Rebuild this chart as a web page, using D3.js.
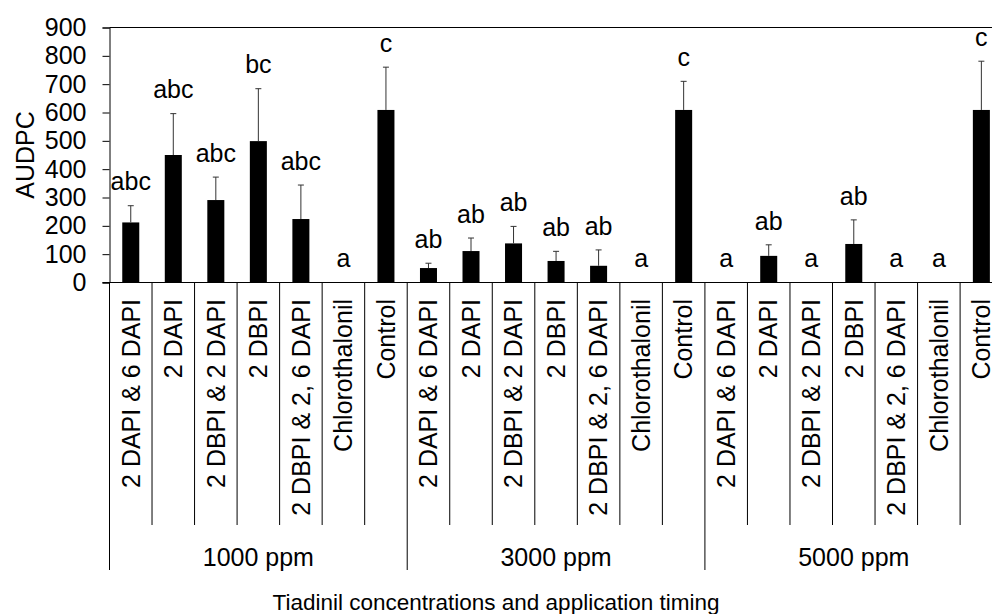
<!DOCTYPE html>
<html>
<head>
<meta charset="utf-8">
<script src="https://cdn.jsdelivr.net/npm/d3@7"></script>
<style>
  body { margin: 0; background: #fff; }
  svg { display: block; font-family: "Liberation Sans", Arial, sans-serif; }
</style>
</head>
<body>
<div id="vis"></div>
<script>
// Data
let groups = ['1000 ppm', '3000 ppm', '5000 ppm'];
let treatments = ['2 DAPI & 6 DAPI', '2 DAPI', '2 DBPI & 2 DAPI', '2 DBPI', '2 DBPI & 2, 6 DAPI', 'Chlorothalonil', 'Control'];
let audpc1000 = [212, 450, 291, 499, 224, 0, 609];
let audpc3000 = [51, 111, 138, 76, 59, 0, 609];
let audpc5000 = [0, 94, 0, 136, 0, 0, 609];
let err1000 = [59, 146, 81, 185, 120, 0, 151];
let err3000 = [17, 46, 60, 34, 56, 0, 101];
let err5000 = [0, 39, 0, 85, 0, 0, 172];
let letters1000 = ['abc', 'abc', 'abc', 'bc', 'abc', 'a', 'c'];
let letters3000 = ['ab', 'ab', 'ab', 'ab', 'ab', 'a', 'c'];
let letters5000 = ['a', 'ab', 'a', 'ab', 'a', 'a', 'c'];
let yTicks = [0, 100, 200, 300, 400, 500, 600, 700, 800, 900];

let W = 992;
let H = 614;

// Build one row per bar
let means = [audpc1000, audpc3000, audpc5000];
let errs = [err1000, err3000, err5000];
let letters = [letters1000, letters3000, letters5000];
let rows = [];
groups.forEach((g, gi) => {
	treatments.forEach((t, ti) => {
		rows.push({ id: gi * treatments.length + ti, group: g, gi: gi, treat: t, mean: means[gi][ti], err: errs[gi][ti], letter: letters[gi][ti] });
	});
});

let svg = d3.select('#vis').append('svg').attr('width', W).attr('height', H);

let left = 109.5;
let step = 42.53;
let xScale = d3.scaleBand()
		.domain(rows.map(d => d.id))
		.range([left, left + step * rows.length])
		.paddingInner(0).paddingOuter(0);

let yScale = d3.scaleLinear()
		.domain([0, 900])
		.range([282.5, 27.5]);

// Top frame line
svg.append('line')
		.attr('x1', left).attr('x2', W)
		.attr('y1', yScale(900)).attr('y2', yScale(900))
		.attr('stroke', '#000').attr('stroke-width', 1.2);

// Y axis
let yAxis = d3.axisLeft(yScale).tickValues(yTicks).tickSize(7).tickPadding(16);
let yG = svg.append('g').attr('transform', `translate(${left},0)`).call(yAxis);
yG.select('.domain').attr('stroke', '#000');
yG.selectAll('.tick line').attr('stroke', '#000');
yG.selectAll('.tick text').attr('font-size', 25).attr('fill', '#000')
		.attr('font-family', '"Liberation Sans", Arial, sans-serif');

// Y axis title
svg.append('text')
		.attr('transform', `translate(25,${(yScale(0) + yScale(900)) / 2}) rotate(-90)`)
		.attr('text-anchor', 'middle')
		.attr('dy', '0.35em')
		.attr('font-size', 25)
		.text('AUDPC');

// Bars
let barW = xScale.bandwidth() * 0.4;
svg.selectAll('rect.bar').data(rows.filter(d => d.mean > 0)).enter().append('rect')
		.attr('class', 'bar')
		.attr('x', d => xScale(d.id) + (xScale.bandwidth() - barW) / 2)
		.attr('y', d => yScale(d.mean))
		.attr('width', barW)
		.attr('height', d => yScale(0) - yScale(d.mean))
		.attr('fill', '#000');

// Error bars (positive only)
let errRows = rows.filter(d => d.err > 0);
svg.selectAll('line.err').data(errRows).enter().append('line')
		.attr('class', 'err')
		.attr('x1', d => xScale(d.id) + xScale.bandwidth() / 2)
		.attr('x2', d => xScale(d.id) + xScale.bandwidth() / 2)
		.attr('y1', d => yScale(d.mean))
		.attr('y2', d => yScale(d.mean + d.err))
		.attr('stroke', '#333').attr('stroke-width', 1);
svg.selectAll('line.cap').data(errRows).enter().append('line')
		.attr('class', 'cap')
		.attr('x1', d => xScale(d.id) + xScale.bandwidth() / 2 - 3)
		.attr('x2', d => xScale(d.id) + xScale.bandwidth() / 2 + 3)
		.attr('y1', d => yScale(d.mean + d.err))
		.attr('y2', d => yScale(d.mean + d.err))
		.attr('stroke', '#333').attr('stroke-width', 1);

// Significance letters
svg.selectAll('text.letter').data(rows).enter().append('text')
		.attr('class', 'letter')
		.attr('x', d => xScale(d.id) + xScale.bandwidth() / 2)
		.attr('y', d => yScale(d.mean + d.err) - 24)
		.attr('dy', '0.35em')
		.attr('text-anchor', 'middle')
		.attr('font-size', 25)
		.text(d => d.letter);

// Baseline
svg.append('line')
		.attr('x1', left - 7).attr('x2', W)
		.attr('y1', yScale(0)).attr('y2', yScale(0))
		.attr('stroke', '#000');

// Category dividers: group edges run longer
let edges = d3.range(rows.length + 1);
svg.selectAll('line.div').data(edges).enter().append('line')
		.attr('class', 'div')
		.attr('x1', i => left + step * i)
		.attr('x2', i => left + step * i)
		.attr('y1', yScale(0))
		.attr('y2', i => i % treatments.length === 0 ? 570 : 525)
		.attr('stroke', '#000').attr('stroke-width', 1);

// Category labels (rotated)
svg.selectAll('text.cat').data(rows).enter().append('text')
		.attr('class', 'cat')
		.attr('transform', d => `translate(${xScale(d.id) + xScale.bandwidth() / 2},299) rotate(-90)`)
		.attr('text-anchor', 'end')
		.attr('dy', '0.35em')
		.attr('font-size', 25)
		.text(d => d.treat);

// Group labels
svg.selectAll('text.grp').data(groups).enter().append('text')
		.attr('class', 'grp')
		.attr('x', (g, gi) => left + step * treatments.length * (gi + 0.5))
		.attr('y', 557)
		.attr('dy', '0.35em')
		.attr('text-anchor', 'middle')
		.attr('font-size', 25)
		.text(g => g);

// X axis title
svg.append('text')
		.attr('x', W / 2)
		.attr('y', 602)
		.attr('dy', '0.35em')
		.attr('text-anchor', 'middle')
		.attr('font-size', 22.5)
		.text('Tiadinil concentrations and application timing');
</script>
</body>
</html>
